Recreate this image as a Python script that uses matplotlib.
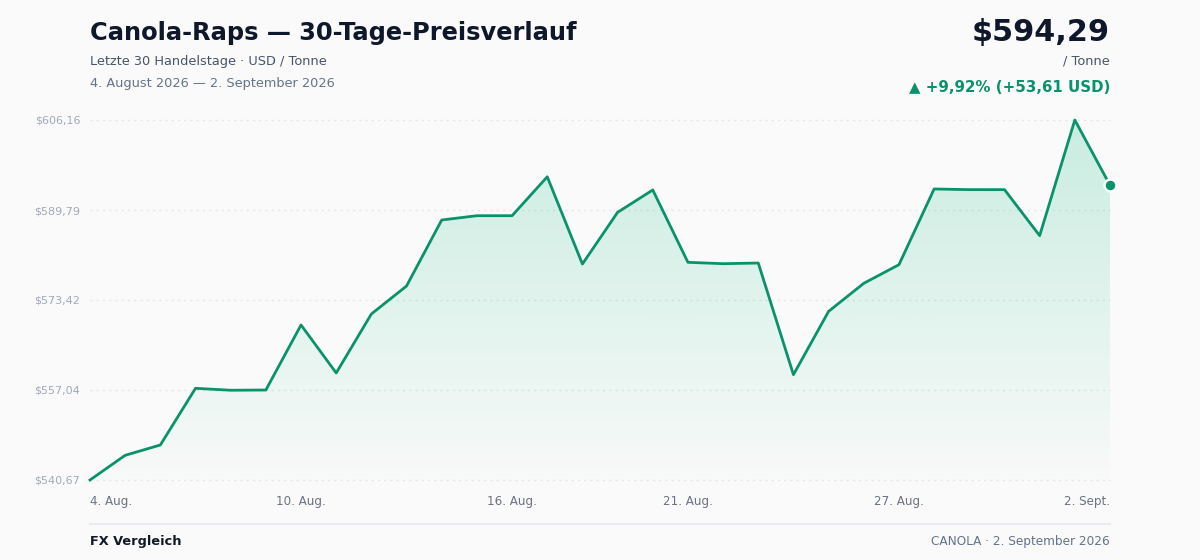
import numpy as np
import matplotlib.pyplot as plt
from matplotlib.colors import to_rgb

# Data -----------------------------------------------------------
prices = [540.67, 545.16, 547.04, 557.35, 557.00, 557.04, 568.87, 560.14,
          570.87, 575.96, 587.97, 588.75, 588.75, 595.83, 579.96, 589.36,
          593.43, 580.27, 580.02, 580.14, 559.83, 571.35, 576.45, 579.84,
          593.61, 593.49, 593.49, 585.12, 606.16, 594.29]
tick_idx = [0, 6, 12, 17, 23, 29]
tick_labels = ['4. Aug.', '10. Aug.', '16. Aug.', '21. Aug.', '27. Aug.', '2. Sept.']
ytick_labels = ['$540,67', '$557,04', '$573,42', '$589,79', '$606,16']

GREEN = '#0a936a'
FILL = '#10b981'
BG = '#fafafa'

x = np.arange(len(prices))
y = np.array(prices)
ymin, ymax = y.min(), y.max()

fig = plt.figure(figsize=(12, 5.6), dpi=100, facecolor=BG)
ax = fig.add_axes([90 / 1200, 80 / 560, 1020 / 1200, 360 / 560])
ax.set_facecolor(BG)
ax.set_xlim(0, len(prices) - 1)
ax.set_ylim(ymin, ymax)

# dotted grid
yticks = np.linspace(ymin, ymax, 5)
for v in yticks:
    ax.axhline(v, color='#e3e6eb', lw=1, ls=(0, (1.5, 3)), zorder=0.5, clip_on=False)

# gradient fill under the line
grad = np.zeros((256, 1, 4))
grad[:, 0, 0:3] = to_rgb(FILL)
grad[:, 0, 3] = np.linspace(0.01, 0.21, 256)
img = ax.imshow(grad, aspect='auto', origin='lower',
                extent=[0, len(prices) - 1, ymin, ymax], zorder=1)
poly = ax.fill_between(x, y, ymin, color='none', lw=0)
img.set_clip_path(poly.get_paths()[0], transform=ax.transData)

ax.plot(x, y, color=GREEN, lw=2, zorder=3, clip_on=False)
ax.scatter([x[-1]], [y[-1]], s=75, color=GREEN, edgecolor='white', linewidth=1.8,
           zorder=4, clip_on=False)

for s in ax.spines.values():
    s.set_visible(False)
ax.set_yticks(yticks)
ax.set_yticklabels(ytick_labels)
ax.tick_params(axis='y', length=0, pad=7, labelsize=8, labelcolor='#a0a9b8')
ax.set_xticks(tick_idx)
ax.set_xticklabels(tick_labels)
ax.tick_params(axis='x', length=0, pad=10.5, labelsize=8.6, labelcolor='#6b7280')
xl = ax.get_xticklabels()
xl[0].set_ha('left')
xl[-1].set_ha('right')

# header texts
fig.text(90 / 1200, 1 - 33 / 560, 'Canola-Raps — 30-Tage-Preisverlauf', fontsize=17.4,
         fontweight='bold', color='#0f172a', va='center', ha='left')
fig.text(90 / 1200, 1 - 61 / 560, 'Letzte 30 Handelstage · USD / Tonne', fontsize=9.3,
         color='#475569', va='center', ha='left')
fig.text(90 / 1200, 1 - 83 / 560, '4. August 2026 — 2. September 2026', fontsize=9.3,
         color='#64748b', va='center', ha='left')
fig.text(1110 / 1200, 1 - 32 / 560, '$594,29', fontsize=21.8,
         fontweight='bold', color='#0f172a', va='center', ha='right')
fig.text(1110 / 1200, 1 - 61 / 560, '/ Tonne', fontsize=9.3, color='#475569',
         va='center', ha='right')
fig.text(1110 / 1200, 1 - 87 / 560, '▲ +9,92% (+53,61 USD)', fontsize=10.8,
         fontweight='bold', color=GREEN, va='center', ha='right')

# footer
fig.add_artist(plt.Line2D([90 / 1200, 1110 / 1200], [1 - 524 / 560] * 2,
                          color='#e8eaed', lw=1.5))
fig.text(90 / 1200, 1 - 541 / 560, 'FX Vergleich', fontsize=9.3, fontweight='bold',
         color='#111827', va='center', ha='left')
fig.text(1110 / 1200, 1 - 541 / 560, 'CANOLA · 2. September 2026', fontsize=8.7,
         color='#64748b', va='center', ha='right')

fig.savefig('out.png', dpi=100, facecolor=BG)
